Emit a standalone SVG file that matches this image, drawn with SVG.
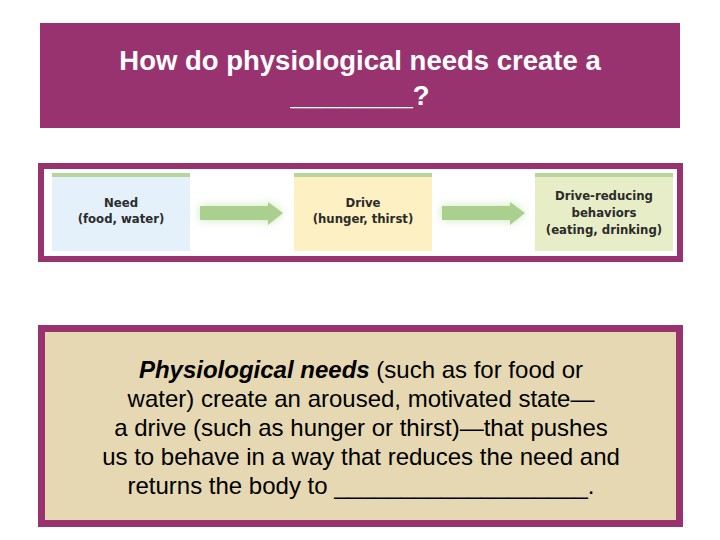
<svg xmlns="http://www.w3.org/2000/svg" width="720" height="540" viewBox="0 0 720 540">
<defs>
<style>
.title{font-family:"Liberation Sans",Arial,sans-serif;font-weight:bold;font-size:27.5px;fill:#ffffff;text-anchor:middle}
.lbl{font-family:"DejaVu Sans Condensed","DejaVu Sans","Liberation Sans",sans-serif;font-stretch:condensed;font-size:13px;fill:#2b2b2b;text-anchor:middle;font-weight:bold}
.body{font-family:"Liberation Sans",Arial,sans-serif;font-size:24px;fill:#000000;text-anchor:middle}
.frame{fill:none;stroke:#993370}
.strip{fill:#b6d69d}
.arrow{fill:#a9d08e}
</style>
<filter id="glow" x="-30%" y="-80%" width="160%" height="260%">
<feGaussianBlur stdDeviation="5"/>
</filter>
</defs>
<rect width="720" height="540" fill="#ffffff"/>
<g id="title">
<rect x="40" y="23" width="640" height="105" fill="#993370"/>
<text class="title" x="360" y="70">How do physiological needs create a</text>
<text class="title" x="360" y="105">________?</text>
</g>
<g id="flow-panel">
<rect x="41" y="166" width="639" height="93" fill="#ffffff"/>
<rect class="frame" x="41" y="166" width="639" height="93" stroke-width="6"/>
</g>
<g id="need">
<rect x="52" y="173" width="138" height="78" fill="#e4f1fb"/>
<rect class="strip" x="52" y="173" width="138" height="4"/>
<text class="lbl" x="121" y="207">Need</text>
<text class="lbl" x="121" y="223">(food, water)</text>
</g>
<g id="drive">
<rect x="294" y="173" width="138" height="78" fill="#fdf0c2"/>
<rect class="strip" x="294" y="173" width="138" height="4"/>
<text class="lbl" x="363" y="207">Drive</text>
<text class="lbl" x="363" y="223">(hunger, thirst)</text>
</g>
<g id="behaviors">
<rect x="535" y="173" width="138" height="78" fill="#e7edc6"/>
<rect class="strip" x="535" y="173" width="138" height="4"/>
<text class="lbl" x="604" y="200">Drive-reducing</text>
<text class="lbl" x="604" y="217">behaviors</text>
<text class="lbl" x="604" y="234">(eating, drinking)</text>
</g>
<g id="connectors">
<g>
<path d="M200 206 H268 V202 L283 213 L268 225 V220 H200 Z" fill="#cfe6bd" filter="url(#glow)"/>
<path class="arrow" d="M200 206 H268 V202 L283 213 L268 225 V220 H200 Z"/>
</g>
<g>
<path d="M442 206 H510 V202 L525 213 L510 225 V220 H442 Z" fill="#cfe6bd" filter="url(#glow)"/>
<path class="arrow" d="M442 206 H510 V202 L525 213 L510 225 V220 H442 Z"/>
</g>
</g>
<g id="summary">
<rect x="41.5" y="328.5" width="638" height="195" fill="#e6d8b2" stroke="#993370" stroke-width="7"/>
<text class="body" x="361" y="378"><tspan font-weight="bold" font-style="italic">Physiological needs</tspan> (such as for food or</text>
<text class="body" x="361" y="407">water) create an aroused, motivated state—</text>
<text class="body" x="361" y="436">a drive (such as hunger or thirst)—that pushes</text>
<text class="body" x="361" y="465">us to behave in a way that reduces the need and</text>
<text class="body" x="361" y="494">returns the body to ___________________.</text>
</g>
</svg>
